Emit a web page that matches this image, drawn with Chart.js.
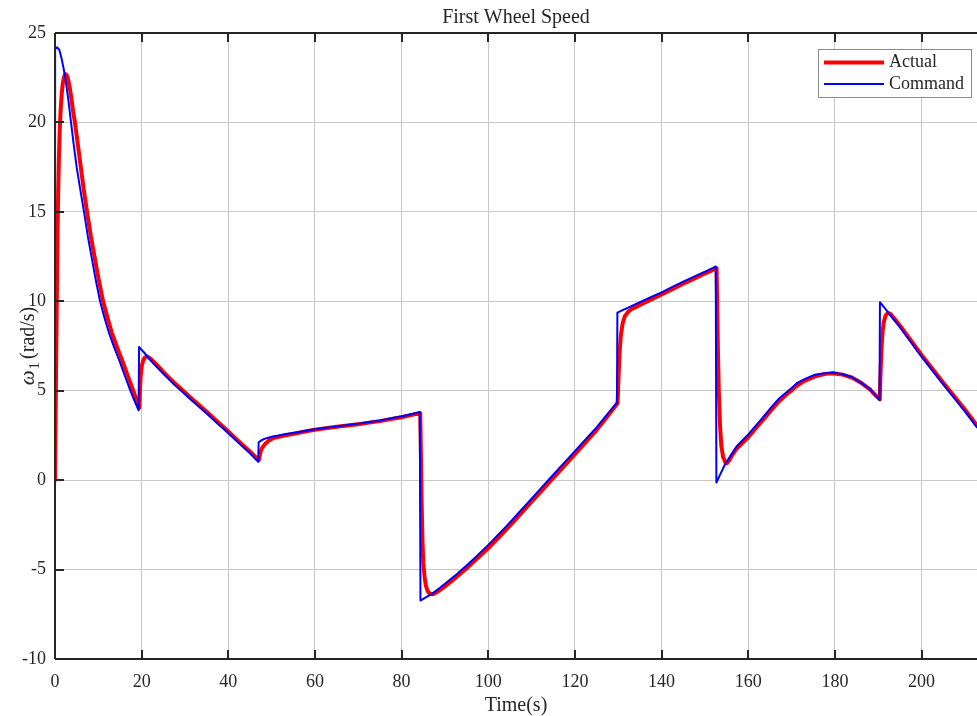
<!DOCTYPE html>
<html><head><meta charset="utf-8">
<script src="https://cdn.jsdelivr.net/npm/chart.js@4.4.0/dist/chart.umd.min.js"></script>
<style>html,body{margin:0;padding:0;background:#fff;overflow:hidden}canvas{display:block}</style>
</head><body>
<canvas id="c" width="977" height="716"></canvas>
<script>
// ---- chart text ----
const titleText = 'First Wheel Speed';
const xLabel = 'Time(s)';
const seriesNames = ['Actual', 'Command'];
// ---- axis ticks ----
const xTicks = [0, 20, 40, 60, 80, 100, 120, 140, 160, 180, 200];
const yTicks = [-10, -5, 0, 5, 10, 15, 20, 25];
const xMax = 212.8;
// ---- Command series (time, value) ----
const commandT = [0, 0.03, 0.5, 1.0, 1.5, 2.0, 2.5, 3.1, 3.7, 4.3, 5.0, 5.8, 6.7, 7.6, 8.5, 9.4, 10.4, 11.4, 12.5, 13.7, 14.9, 16.1, 17.4, 18.4, 19.3,
  19.4, 20.5, 21.4, 23, 25, 27.5, 30, 32.5, 35, 37.5, 40, 42.5, 45, 46.9,
  47.0, 47.8, 48.5, 50.3, 53, 56, 60, 65, 70, 75, 80, 84.2,
  84.35, 87, 89, 91, 93, 95, 97, 100, 102.5, 105, 110, 115, 120, 125, 129.7,
  129.8, 135, 140, 145, 150, 152.5,
  152.65, 154.6, 157.3, 160, 161.5, 163, 164.4, 165.8, 167, 168.5, 170, 171.2, 173, 175.4, 177.5, 179.6, 181.8, 183.9, 186, 188.1, 190.3,
  190.4, 195, 200, 205, 210, 212.8];
const commandV = [0, 24.1, 24.2, 24.05, 23.6, 23.0, 22.3, 21.2, 20.0, 18.8, 17.5, 16.3, 15.0, 13.6, 12.4, 11.2, 10.0, 9.1, 8.2, 7.4, 6.65, 5.85, 5.0, 4.4, 3.9,
  7.45, 7.15, 6.9, 6.45, 5.95, 5.35, 4.8, 4.25, 3.72, 3.17, 2.62, 2.06, 1.5, 1.02,
  2.12, 2.25, 2.32, 2.44, 2.56, 2.68, 2.85, 3.0, 3.16, 3.34, 3.57, 3.8,
  -6.73, -6.36, -5.99, -5.6, -5.2, -4.77, -4.32, -3.62, -3.0, -2.36, -1.03, 0.3, 1.62, 2.95, 4.34,
  9.37, 9.95, 10.5, 11.1, 11.65, 11.95,
  -0.13, 0.86, 1.88, 2.55, 2.98, 3.4, 3.8, 4.21, 4.53, 4.85, 5.15, 5.42, 5.65, 5.89, 5.97, 6.02, 5.92, 5.76, 5.45, 5.09, 4.47,
  9.95, 8.55, 6.9, 5.35, 3.85, 2.95];
// ---- Actual series (time, value) ----
const actualT = [0, 0.1, 0.2, 0.3, 0.4, 0.5, 0.6, 0.75, 0.9, 1.1, 1.3, 1.55, 1.8, 2.1, 2.4, 2.7, 3.0, 3.4, 3.8, 4.2, 4.6, 5.2, 5.9, 6.6, 7.4, 8.3, 9.2, 10.1, 11.1, 12.1, 13.1, 14.3, 15.5, 16.7, 17.9, 18.8, 19.45,
  19.55, 19.65, 19.8, 20.0, 20.3, 20.7, 21.2, 22, 23.5, 25, 27.5, 30, 32.5, 35, 37.5, 40, 42.5, 45, 47.05,
  47.2, 47.4, 47.7, 48.1, 48.6, 49.3, 50.3, 53, 56, 60, 65, 70, 75, 80, 84.3,
  84.45, 84.6, 84.8, 85.0, 85.3, 85.6, 86.0, 86.5, 87.2, 88, 89, 91, 93, 95, 97, 100, 102.5, 105, 110, 115, 120, 125, 129.85,
  129.95, 130.1, 130.3, 130.6, 131.0, 131.5, 132.2, 133, 135, 140, 145, 150, 152.7,
  152.85, 153.0, 153.2, 153.5, 153.8, 154.2, 154.7, 155.1, 155.6, 156.3, 157.3, 160, 161.5, 163, 164.4, 165.8, 167, 168.5, 170, 171.2, 173, 175.4, 177.5, 179.6, 181.8, 183.9, 186, 188.1, 190.35,
  190.45, 190.6, 190.8, 191.0, 191.3, 191.7, 192.2, 192.8, 195, 200, 205, 210, 212.8];
const actualV = [0, 2.5, 5, 7.5, 9.8, 12, 14, 16.3, 18, 19.6, 20.7, 21.6, 22.2, 22.55, 22.7, 22.65, 22.45, 21.95, 21.3, 20.6, 20.0, 18.9, 17.6, 16.3, 15.0, 13.6, 12.4, 11.2, 10.0, 9.1, 8.25, 7.45, 6.7, 5.9, 5.1, 4.5, 4.05,
  4.6, 5.3, 5.9, 6.35, 6.65, 6.85, 6.92, 6.8, 6.45, 6.05, 5.45, 4.9, 4.35, 3.82, 3.27, 2.72, 2.15, 1.6, 1.12,
  1.3, 1.55, 1.75, 1.9, 2.05, 2.2, 2.35, 2.5, 2.64, 2.82, 2.98, 3.13, 3.3, 3.52, 3.75,
  1.5, -1, -3.3, -4.6, -5.4, -5.9, -6.2, -6.35, -6.38, -6.28, -6.12, -5.75, -5.35, -4.92, -4.48, -3.8, -3.18, -2.54, -1.2, 0.12, 1.45, 2.8, 4.3,
  5.0, 6.0, 7.1, 8.1, 8.75, 9.15, 9.4, 9.55, 9.8, 10.38, 10.98, 11.55, 11.85,
  9.5, 7.3, 5.0, 3.0, 1.9, 1.3, 1.0, 0.95, 1.1, 1.4, 1.75, 2.4, 2.83, 3.25, 3.65, 4.05, 4.38, 4.72, 5.02, 5.28, 5.55, 5.8, 5.93, 5.98, 5.9, 5.74, 5.45, 5.07, 4.5,
  5.3, 6.4, 7.5, 8.3, 8.85, 9.2, 9.35, 9.3, 8.65, 7.0, 5.45, 3.95, 3.05];

const FONT = '"Liberation Serif", "Times New Roman", serif';
const TXT = '#262626';
const GRID = '#c8c8c8';

const toXY = (ts, vs) => ts.map((t, i) => ({ x: t, y: vs[i] }));

const decor = {
  id: 'decor',
  afterDraw(chart) {
    const { ctx, chartArea: a, scales: { x, y } } = chart;
    ctx.save();
    // axes lines
    ctx.strokeStyle = TXT; ctx.lineWidth = 2;
    ctx.beginPath();
    ctx.moveTo(a.left, a.top); ctx.lineTo(a.right, a.top);
    ctx.moveTo(a.left, a.top); ctx.lineTo(a.left, a.bottom);
    ctx.moveTo(a.left, a.bottom); ctx.lineTo(a.right, a.bottom);
    ctx.stroke();
    // inward tick marks
    const TL = 9;
    ctx.beginPath();
    xTicks.forEach(v => {
      const px = Math.round(x.getPixelForValue(v));
      ctx.moveTo(px, a.bottom); ctx.lineTo(px, a.bottom - TL);
      ctx.moveTo(px, a.top); ctx.lineTo(px, a.top + TL);
    });
    yTicks.forEach(v => {
      const py = Math.round(y.getPixelForValue(v));
      ctx.moveTo(a.left, py); ctx.lineTo(a.left + TL, py);
    });
    ctx.stroke();
    // title
    ctx.fillStyle = TXT;
    ctx.font = '20px ' + FONT;
    ctx.textAlign = 'center'; ctx.textBaseline = 'middle';
    ctx.fillText(titleText, (a.left + a.right) / 2, 18);
    // x label
    ctx.font = '20px ' + FONT;
    ctx.fillText(xLabel, (a.left + a.right) / 2, 706);
    // y label: italic omega, subscript 1, (rad/s)
    ctx.save();
    ctx.translate(34, (a.top + a.bottom) / 2);
    ctx.rotate(-Math.PI / 2);
    ctx.textBaseline = 'alphabetic'; ctx.textAlign = 'left';
    const f1 = 'italic 21px ' + FONT, f2 = '15px ' + FONT, f3 = '20px ' + FONT;
    ctx.font = f1; const w1 = ctx.measureText('ω').width + 1;
    ctx.font = f2; const w2 = ctx.measureText('1').width + 3;
    ctx.font = f3; const w3 = ctx.measureText('(rad/s)').width;
    let sx = -(w1 + w2 + w3) / 2;
    ctx.font = f1; ctx.fillText('ω', sx, 0); sx += w1;
    ctx.font = f2; ctx.fillText('1', sx, 5); sx += w2;
    ctx.font = f3; ctx.fillText('(rad/s)', sx, 0);
    ctx.restore();
    // legend
    const lx = 818.5, ly = 49.5, lw = 153, lh = 48;
    ctx.fillStyle = '#ffffff'; ctx.fillRect(lx, ly, lw, lh);
    ctx.strokeStyle = '#8a8a8a'; ctx.lineWidth = 1; ctx.strokeRect(lx, ly, lw, lh);
    ctx.font = '18px ' + FONT; ctx.textAlign = 'left'; ctx.textBaseline = 'middle';
    chart.data.datasets.forEach((ds, i) => {
      const yy = 62.5 + i * 21.5;
      ctx.strokeStyle = ds.borderColor; ctx.lineWidth = ds.borderWidth;
      ctx.beginPath(); ctx.moveTo(824, yy); ctx.lineTo(884, yy); ctx.stroke();
      ctx.fillStyle = TXT; ctx.fillText(ds.label, 889, yy);
    });
    ctx.restore();
  }
};

new Chart(document.getElementById('c'), {
  type: 'line',
  data: {
    datasets: [
      { label: seriesNames[0], data: toXY(actualT, actualV), borderColor: '#ff0000', borderWidth: 4, order: 1 },
      { label: seriesNames[1], data: toXY(commandT, commandV), borderColor: '#0000ff', borderWidth: 2, order: 0 }
    ]
  },
  options: {
    responsive: false, animation: false, devicePixelRatio: 1,
    layout: { padding: { top: 33, left: 0, right: 0, bottom: 0 } },
    elements: { point: { radius: 0 }, line: { tension: 0.0001, fill: false, borderJoinStyle: 'round', borderCapStyle: 'round' } },
    plugins: { legend: { display: false }, tooltip: { enabled: false }, title: { display: false } },
    scales: {
      x: {
        type: 'linear', min: 0, max: xMax,
        afterBuildTicks: s => { s.ticks = xTicks.map(v => ({ value: v })); },
        afterFit: s => { s.height = 57; },
        grid: { color: GRID, lineWidth: 1, drawTicks: false },
        border: { display: false },
        ticks: { color: TXT, font: { family: FONT, size: 18 }, padding: 12, maxRotation: 0, autoSkip: false }
      },
      y: {
        type: 'linear', min: -10, max: 25,
        afterBuildTicks: s => { s.ticks = yTicks.map(v => ({ value: v })); },
        afterFit: s => { s.width = 55; },
        grid: { color: GRID, lineWidth: 1, drawTicks: false },
        border: { display: false },
        ticks: { color: TXT, font: { family: FONT, size: 18 }, padding: 9 }
      }
    }
  },
  plugins: [decor]
});
</script>
</body></html>
